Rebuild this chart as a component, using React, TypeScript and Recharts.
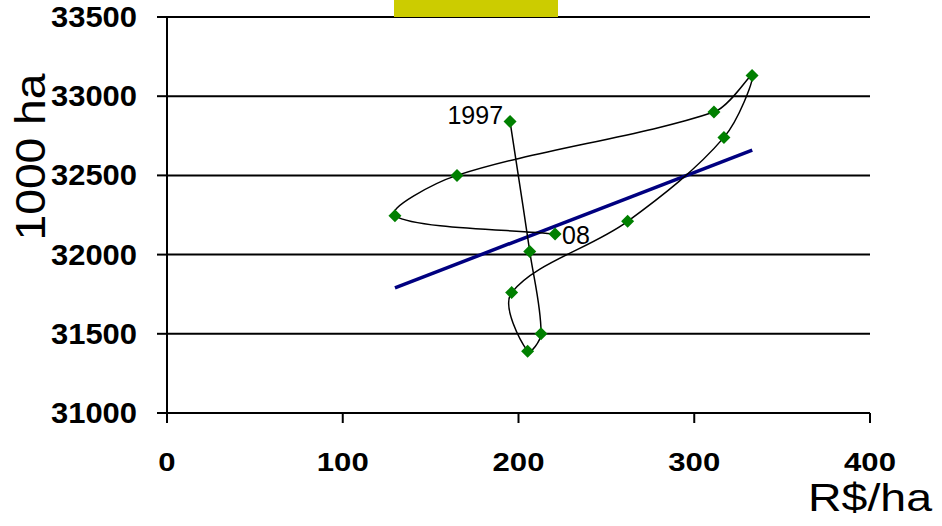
import React from "react";
import { ScatterChart, Scatter, XAxis, YAxis, CartesianGrid } from "recharts";

// price (R$/ha) vs planted area (1000 ha), 1997..2008
const priceX = [195.2, 206.4, 212.8, 205.2, 196.1, 262.1, 316.9, 332.9, 311.2, 165.0, 129.7, 220.8];
const areaY = [32840, 32020, 31500, 31390, 31760, 32210, 32740, 33130, 32900, 32500, 32245, 32130];
const pointLabels = ["1997", "", "", "", "", "", "", "", "", "", "", "08"];

// linear trend, read at its two ends
const trendX = [129.7, 333.0];
const trendY = [31790, 32660];

const xTicks = [0, 100, 200, 300, 400];
const yTicks = [31000, 31500, 32000, 32500, 33000, 33500];

const FONT = "'Liberation Sans', Arial, sans-serif";

const points = priceX.map((x, i) => ({ x, y: areaY[i], label: pointLabels[i] }));
const trend = trendX.map((x, i) => ({ x, y: trendY[i] }));

const dist = (a: number[], b: number[]) => Math.hypot(b[0] - a[0], b[1] - a[1]);

// Excel-like smoothed line: cubic beziers, tangents weighted by segment length
const smoothCurve = (context: any) => {
  let pts: number[][] = [];
  return {
    areaStart() {},
    areaEnd() {},
    lineStart() {
      pts = [];
    },
    point(x: number, y: number) {
      pts.push([+x, +y]);
    },
    lineEnd() {
      if (!pts.length) return;
      context.moveTo(pts[0][0], pts[0][1]);
      for (let i = 0; i < pts.length - 1; i++) {
        const p0 = pts[i - 1] || pts[i];
        const p1 = pts[i];
        const p2 = pts[i + 1];
        const p3 = pts[i + 2] || p2;
        const d01 = dist(p0, p1);
        const d12 = dist(p1, p2);
        const d23 = dist(p2, p3);
        const s1 = Math.min(d12 / (d01 + d12 || 1), 0.75) / 3;
        const s2 = Math.min(d12 / (d12 + d23 || 1), 0.75) / 3;
        context.bezierCurveTo(
          p1[0] + (p2[0] - p0[0]) * s1,
          p1[1] + (p2[1] - p0[1]) * s1,
          p2[0] - (p3[0] - p1[0]) * s2,
          p2[1] - (p3[1] - p1[1]) * s2,
          p2[0],
          p2[1]
        );
      }
    },
  };
};

const Diamond = (props: any) => {
  const { cx, cy, payload } = props;
  const r = 6.5;
  const label = payload?.label;
  return (
    <g>
      <polygon
        points={`${cx},${cy - r} ${cx + r},${cy} ${cx},${cy + r} ${cx - r},${cy}`}
        fill="#008000"
      />
      {label === "1997" && (
        <text x={cx - 7} y={cy + 2} textAnchor="end" fontSize={25} fontFamily={FONT} fill="#000">
          {label}
        </text>
      )}
      {label === "08" && (
        <text x={cx + 7} y={cy + 10} textAnchor="start" fontSize={25} fontFamily={FONT} fill="#000">
          {label}
        </text>
      )}
    </g>
  );
};

const NoShape = () => <g />;

const YTick = (props: any) => {
  const { x, y, payload } = props;
  const s = String(payload.value);
  return (
    <text
      x={x}
      y={y + 10}
      textAnchor="end"
      fontSize={29}
      fontWeight="bold"
      fontFamily={FONT}
      fill="#000"
      textLength={s.length * 17.2}
      lengthAdjust="spacingAndGlyphs"
    >
      {s}
    </text>
  );
};

const XTick = (props: any) => {
  const { x, payload } = props;
  const s = String(payload.value);
  return (
    <text
      x={x}
      y={471}
      textAnchor="middle"
      fontSize={26}
      fontWeight="bold"
      fontFamily={FONT}
      fill="#000"
      textLength={s.length * 17.3}
      lengthAdjust="spacingAndGlyphs"
    >
      {s}
    </text>
  );
};

const XTitle = () => (
  <text x={808} y={511} fontSize={38} fontFamily={FONT} fill="#000" textLength={124} lengthAdjust="spacingAndGlyphs">
    R$/ha
  </text>
);

const YTitle = () => (
  <text
    x={45}
    y={157}
    transform="rotate(-90 45 157)"
    textAnchor="middle"
    fontSize={42}
    fontFamily={FONT}
    fill="#000"
    textLength={167}
    lengthAdjust="spacingAndGlyphs"
  >
    1000 ha
  </text>
);

export default function App() {
  return (
    <div style={{ position: "absolute", left: 0, top: 0, width: 942, height: 526, background: "#fff" }}>
      <ScatterChart width={942} height={526} margin={{ top: 17, right: 72, left: 0, bottom: 0 }}>
        <CartesianGrid horizontal vertical={false} stroke="#000" strokeWidth={2} />
        <XAxis
          type="number"
          dataKey="x"
          domain={[0, 400]}
          ticks={xTicks}
          height={113}
          tickSize={10}
          axisLine={{ stroke: "#000", strokeWidth: 2 }}
          tickLine={{ stroke: "#000", strokeWidth: 2 }}
          tick={<XTick />}
          label={<XTitle />}
        />
        <YAxis
          type="number"
          dataKey="y"
          domain={[31000, 33500]}
          ticks={yTicks}
          width={167}
          tickSize={10}
          tickMargin={20}
          axisLine={{ stroke: "#000", strokeWidth: 2 }}
          tickLine={{ stroke: "#000", strokeWidth: 2 }}
          tick={<YTick />}
          label={<YTitle />}
        />
        <Scatter
          data={trend}
          fill="#000080"
          line={{ stroke: "#000080", strokeWidth: 3.5 }}
          lineType="joint"
          shape={<NoShape />}
          isAnimationActive={false}
        />
        <Scatter
          data={points}
          fill="#008000"
          line={{ stroke: "#000", strokeWidth: 1.5 }}
          lineType="joint"
          lineJointType={smoothCurve as any}
          shape={<Diamond />}
          isAnimationActive={false}
        />
      </ScatterChart>
      <div style={{ position: "absolute", left: 394, top: 0, width: 164, height: 17, background: "#CCCC00" }} />
    </div>
  );
}
